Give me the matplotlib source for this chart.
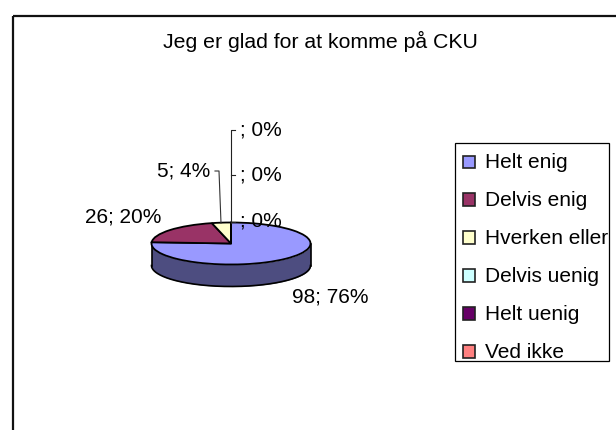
import matplotlib
matplotlib.use("Agg")
import matplotlib.pyplot as plt
from matplotlib.patches import Rectangle
import numpy as np

plt.rcParams['font.family'] = ['Liberation Sans', 'DejaVu Sans']

title = "Jeg er glad for at komme på CKU"
categories = ["Helt enig", "Delvis enig", "Hverken eller", "Delvis uenig", "Helt uenig", "Ved ikke"]
values = [98, 26, 5, 0, 0, 0]
colors = ["#9999FF", "#993366", "#FFFFCC", "#CCFFFF", "#660066", "#FF8080"]
side_color = "#4D4D80"
data_labels = ["98; 76%", "26; 20%", "5; 4%", "; 0%", "; 0%", "; 0%"]

W, H = 616, 430
FS = 15.0
fig = plt.figure(figsize=(W / 100, H / 100), dpi=100)

# background axes in pixel coordinates
ax = fig.add_axes([0, 0, 1, 1])
ax.set_xlim(0, W)
ax.set_ylim(H, 0)
ax.axis('off')

# chart frame, runs off the right and bottom of the picture
ax.add_patch(Rectangle((12.5, 15.5), W, H, fill=False, ec='#111111', lw=1.6))
ax.text(320, 48, title, ha='center', va='baseline', fontsize=15.3, color='black')

# pie geometry
cx, cy, rx, ry, depth = 231, 243.5, 79.5, 21, 22

# side of the pie
th = np.linspace(0, np.pi, 200)
xs = cx + rx * np.cos(th)
ys = cy + ry * np.sin(th)
ax.fill_between(xs, ys, ys + depth, color=side_color, lw=0, zorder=2)
ax.plot(xs, ys + depth, color='black', lw=1.2, zorder=3)
ax.plot([cx - rx, cx - rx], [cy, cy + depth], color='black', lw=1.2, zorder=3)
ax.plot([cx + rx, cx + rx], [cy, cy + depth], color='black', lw=1.2, zorder=3)

# top of the pie, drawn with pie() squashed in its own axes
pie_ax = fig.add_axes([(cx - rx) / W, 1 - (cy + ry) / H, 2 * rx / W, 2 * ry / H], zorder=3)
pie_ax.patch.set_alpha(0)
pie_ax.pie(values, colors=colors, startangle=90, counterclock=False, radius=1,
           wedgeprops=dict(edgecolor='black', linewidth=1.3))
pie_ax.set_aspect('auto')
pie_ax.set_xlim(-1, 1)
pie_ax.set_ylim(-1, 1)

# overlay axes for labels and leader lines
top = fig.add_axes([0, 0, 1, 1], zorder=4)
top.set_xlim(0, W)
top.set_ylim(H, 0)
top.axis('off')
top.patch.set_alpha(0)

label_x = [292, 85, 157, 240, 240, 240]
label_y = [302.7, 222.7, 176.7, 226.7, 180.7, 135]
for s, x, y in zip(data_labels, label_x, label_y):
    top.text(x, y, s, ha='left', va='baseline', fontsize=FS, color='black')

top.plot([215, 219, 221], [171, 171, 223], color='#333333', lw=0.8)
top.plot([235, 230.5, 230.5], [129.5, 129.5, 223], color='#222222', lw=0.8)
top.plot([230.5, 235], [174.5, 174.5], color='#222222', lw=0.8)
top.plot([230.5, 235], [221.5, 221.5], color='#222222', lw=0.8)

# legend
top.add_patch(Rectangle((454.5, 142.5), 154.5, 218, fc='white', ec='black', lw=0.9))
for i, (name, col) in enumerate(zip(categories, colors)):
    y = 168 + i * 37.9
    top.add_patch(Rectangle((462.5, y - 12.5), 12.5, 12.5, fc=col, ec='#222222', lw=1.2))
    top.text(485, y, name, ha='left', va='baseline', fontsize=FS, color='black')

fig.savefig("out.png", dpi=100)
